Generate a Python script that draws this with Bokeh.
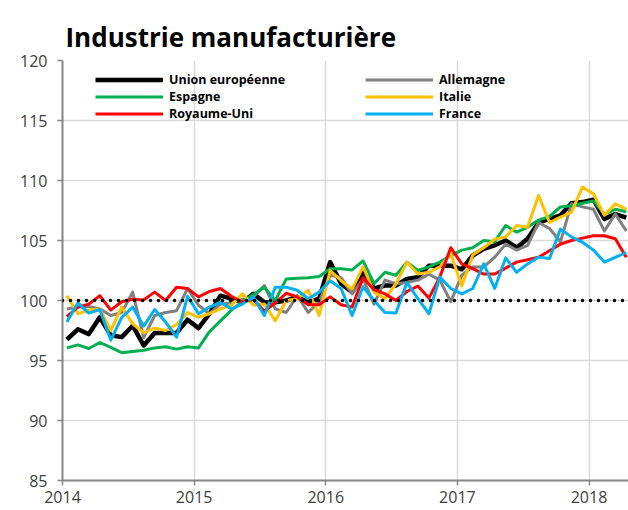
from bokeh.plotting import figure
from bokeh.models import FixedTicker, Legend, LegendItem, Span
from bokeh.embed import file_html
from bokeh.resources import INLINE

# ---------------- data ----------------
start_year = 2014
n_months = 52  # Jan 2014 .. Apr 2018
months = list(range(n_months))

years = [2014, 2015, 2016, 2017, 2018]
y_ticks = [85, 90, 95, 100, 105, 110, 115, 120]

eu = [96.75, 97.6, 97.2, 98.6, 97.1, 96.95, 97.9, 96.25, 97.3, 97.3, 97.3, 98.4,
      97.7, 98.9, 100.4, 100.15, 99.85, 100.55, 99.85, 99.85, 100.0, 100.3, 99.85, 100.15,
      103.2, 101.4, 100.7, 102.35, 101.0, 101.25, 101.25, 101.8, 101.95, 102.9, 102.9, 102.9,
      102.6, 103.75, 104.3, 104.6, 105.0, 104.4, 105.15, 106.5, 106.8, 107.1, 108.1, 108.2,
      108.4, 106.8, 107.2, 106.9]

allemagne = [99.3, 99.45, 99.5, 99.3, 98.75, 99.0, 100.7, 96.9, 98.75, 99.0, 99.15, 101.0,
             99.6, 98.9, 99.7, 99.8, 100.1, 100.3, 101.25, 99.3, 99.0, 100.4, 99.0, 99.9,
             102.1, 101.9, 100.55, 101.8, 99.7, 101.7, 101.4, 101.5, 101.7, 102.2, 101.7, 99.9,
             102.1, 102.8, 102.8, 103.6, 104.7, 104.2, 104.6, 106.5, 106.0, 104.9, 108.05, 107.8,
             107.6, 105.8, 107.2, 105.8]

espagne = [96.05, 96.3, 96.0, 96.5, 96.1, 95.65, 95.75, 95.85, 96.05, 96.15, 95.95, 96.15,
           96.05, 97.4, 98.3, 99.2, 99.9, 100.5, 101.1, 100.0, 101.8, 101.85, 101.9, 102.0,
           102.65, 102.65, 102.55, 103.3, 101.4, 102.35, 102.1, 103.2, 102.5, 102.8, 103.2, 103.75,
           104.2, 104.4, 105.0, 104.9, 106.25, 105.7, 106.1, 106.7, 107.0, 107.8, 107.9, 108.1,
           108.3, 107.2, 107.6, 107.4]

italie = [100.4, 98.9, 99.2, 99.3, 97.5, 99.45, 98.05, 97.3, 97.7, 97.5, 98.0, 99.0,
          98.6, 98.9, 99.3, 99.6, 100.55, 99.6, 99.7, 98.3, 100.0, 100.15, 100.85, 98.75,
          102.5, 101.65, 100.95, 102.8, 100.7, 100.15, 101.4, 103.2, 102.2, 102.35, 102.8, 103.9,
          101.2, 103.8, 104.4, 105.1, 105.3, 106.25, 106.1, 108.75, 106.5, 106.95, 107.35, 109.45,
          108.9, 107.1, 108.05, 107.6]

royaume_uni = [98.65, 99.45, 99.7, 100.4, 99.2, 99.9, 100.1, 100.05, 100.7, 100.0, 101.1, 101.0,
               100.3, 100.75, 101.0, 100.35, 99.85, 100.1, 99.1, 99.8, 100.6, 100.3, 99.65, 99.65,
               100.3, 99.65, 99.45, 101.9, 100.9, 100.55, 100.0, 100.75, 101.2, 100.2, 101.95, 104.4,
               103.05, 102.65, 102.2, 102.2, 102.7, 103.2, 103.4, 103.6, 104.15, 104.7, 105.0, 105.2,
               105.4, 105.4, 105.15, 103.6]

france = [98.2, 99.8, 98.95, 99.25, 96.7, 98.6, 99.45, 97.85, 99.25, 98.2, 96.95, 100.35,
          98.9, 99.45, 99.85, 99.3, 99.7, 100.3, 98.75, 101.1, 101.1, 100.85, 100.15, 100.7,
          101.65, 101.0, 98.75, 101.15, 100.0, 99.0, 98.95, 101.5, 100.15, 98.9, 101.95, 101.0,
          100.55, 101.0, 103.05, 101.0, 103.55, 102.35, 103.05, 103.6, 103.5, 105.95, 105.3, 104.85,
          104.2, 103.2, 103.6, 104.0]

reference_level = 100

# decimal-year position of each monthly observation (mid-month)
x = [start_year + (m + 0.4) / 12 for m in months]

# ---------------- figure ----------------
p = figure(width=628, height=510, x_range=(2014, 2018.30), y_range=(85, 120),
           output_backend="svg", toolbar_location=None,
           min_border_left=62, min_border_right=0, min_border_top=60, min_border_bottom=30,
           title="Industrie manufacturière")
p.outline_line_color = None
p.background_fill_color = "white"
p.border_fill_color = "white"

p.title.text_font = "Open Sans"
p.title.text_font_size = "26px"
p.title.text_font_style = "bold"
p.title.text_color = "black"
p.title.align = "left"
p.title.offset = 3
p.title.standoff = 11

grid_color = "#d9d9d9"
axis_color = "#868686"
label_color = "#404040"

p.xaxis.ticker = FixedTicker(ticks=years)
p.yaxis.ticker = FixedTicker(ticks=y_ticks)
p.xgrid.ticker = FixedTicker(ticks=years)
p.ygrid.ticker = FixedTicker(ticks=y_ticks)
for g in (p.xgrid, p.ygrid):
    g.grid_line_color = grid_color
    g.grid_line_width = 1.5

for ax in (p.xaxis, p.yaxis):
    ax.axis_line_color = axis_color
    ax.axis_line_width = 2
    ax.major_tick_line_color = axis_color
    ax.major_tick_line_width = 1.5
    ax.major_tick_in = 0
    ax.major_tick_out = 5
    ax.minor_tick_line_color = None
    ax.major_label_text_font = "Open Sans"
    ax.major_label_text_font_size = "16px"
    ax.major_label_text_color = label_color
p.yaxis.major_label_standoff = 10
p.xaxis.major_label_standoff = 5

# reference line at 100
p.add_layout(Span(location=reference_level, dimension="width", line_color="black",
                  line_width=3.5, line_dash="0 8", line_cap="round"))

r_eu = p.line(x, eu, line_color="black", line_width=4.5, line_join="round")
r_de = p.line(x, allemagne, line_color="#808080", line_width=3, line_join="round")
r_es = p.line(x, espagne, line_color="#00B050", line_width=3, line_join="round")
r_it = p.line(x, italie, line_color="#FFC000", line_width=3, line_join="round")
r_uk = p.line(x, royaume_uni, line_color="#FF0000", line_width=3, line_join="round")
r_fr = p.line(x, france, line_color="#00B0F0", line_width=3, line_join="round")

legend = Legend(items=[
    LegendItem(label="Union européenne", renderers=[r_eu]),
    LegendItem(label="Espagne", renderers=[r_es]),
    LegendItem(label="Royaume-Uni", renderers=[r_uk]),
    LegendItem(label="Allemagne", renderers=[r_de]),
    LegendItem(label="Italie", renderers=[r_it]),
    LegendItem(label="France", renderers=[r_fr]),
], ncols=2, location=(33, 358))
legend.background_fill_alpha = 0
legend.border_line_color = None
legend.padding = 0
legend.margin = 0
legend.spacing = 0
legend.glyph_width = 68
legend.glyph_height = 13
legend.label_height = 13
legend.label_standoff = 6
legend.label_width = 196
legend.label_text_font = "Open Sans"
legend.label_text_font_size = "12.5px"
legend.label_text_font_style = "bold"
legend.label_text_color = "black"
p.add_layout(legend)

open("out.html", "w").write(file_html(p, INLINE))
